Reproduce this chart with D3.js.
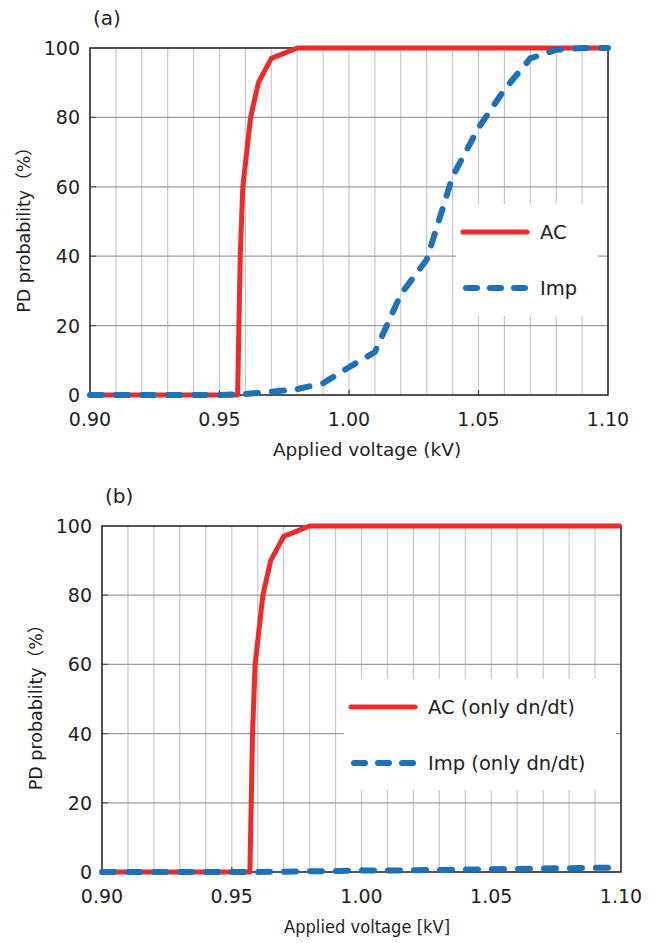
<!DOCTYPE html>
<html>
<head>
<meta charset="utf-8">
<script src="https://cdn.jsdelivr.net/npm/d3@7"></script>
<style>
    body { margin: 0; background: #fff; }
    text { font-family: "DejaVu Sans", "Noto Sans CJK JP", sans-serif; fill: #231f20; }
</style>
</head>
<body>
<div id="chart"></div>
<script>

// tick values
const xTicks = [0.90, 0.95, 1.00, 1.05, 1.10]
const yTicks = [0, 20, 40, 60, 80, 100]

// panel (a)
const acVoltageA = [0.90, 0.957, 0.958, 0.959, 0.962, 0.965, 0.970, 0.980, 1.10]
const acProbA = [0, 0, 40, 60, 80, 90, 97, 100, 100]
const impVoltageA = [0.90, 0.95, 0.96, 0.97, 0.98, 0.99, 1.00, 1.01, 1.02, 1.03, 1.04, 1.05, 1.06, 1.07, 1.08, 1.09, 1.10]
const impProbA = [0, 0, 0.3, 0.9, 1.7, 3.4, 8, 12.4, 29, 39, 63, 77, 88, 97, 99.5, 100, 100]

// panel (b)
const acVoltageB = [0.90, 0.957, 0.958, 0.959, 0.962, 0.965, 0.970, 0.980, 1.10]
const acProbB = [0, 0, 40, 60, 80, 90, 97, 100, 100]
const impVoltageB = [0.90, 0.95, 0.96, 0.97, 0.98, 0.99, 1.00, 1.01, 1.02, 1.03, 1.04, 1.05, 1.06, 1.07, 1.08, 1.09, 1.10]
const impProbB = [0, 0, 0, 0.1, 0.2, 0.3, 0.4, 0.4, 0.5, 0.6, 0.7, 0.8, 0.9, 1.0, 1.1, 1.2, 1.3]

const red = "#ee2a2b"
const blue = "#1c71b8"

const svg = d3.select("#chart").append("svg")
    .attr("width", 661)
    .attr("height", 943)

function drawPanel(p) {
    let x = d3.scaleLinear().domain([0.90, 1.10]).range([p.left, p.right])
    let y = d3.scaleLinear().domain([0, 100]).range([p.bottom, p.top])
    let g = svg.append("g")

    // vertical grid every 0.01
    g.selectAll(".vgrid")
        .data(d3.range(1, 20).map(i => 0.90 + i * 0.01))
        .enter().append("line")
        .attr("x1", d => x(d)).attr("x2", d => x(d))
        .attr("y1", p.top).attr("y2", p.bottom)
        .attr("stroke", "#c9c9c9").attr("stroke-width", 1.2)

    // horizontal grid
    g.selectAll(".hgrid")
        .data(yTicks.slice(1, -1))
        .enter().append("line")
        .attr("x1", p.left).attr("x2", p.right)
        .attr("y1", d => y(d)).attr("y2", d => y(d))
        .attr("stroke", "#9d9d9d").attr("stroke-width", 1.2)

    // legend box hides grid
    g.append("rect")
        .attr("x", p.legend.x).attr("y", p.legend.y)
        .attr("width", p.legend.w).attr("height", p.legend.h)
        .attr("fill", "#fff")

    // small inner ticks
    g.selectAll(".xt")
        .data(xTicks.slice(1, -1))
        .enter().append("line")
        .attr("x1", d => x(d)).attr("x2", d => x(d))
        .attr("y1", p.bottom).attr("y2", p.bottom - 5)
        .attr("stroke", "#444").attr("stroke-width", 1.2)
    g.selectAll(".yt")
        .data(yTicks.slice(1, -1))
        .enter().append("line")
        .attr("x1", p.left).attr("x2", p.left + 6)
        .attr("y1", d => y(d)).attr("y2", d => y(d))
        .attr("stroke", "#555").attr("stroke-width", 1.2)

    // frame
    g.append("rect")
        .attr("x", p.left).attr("y", p.top)
        .attr("width", p.right - p.left).attr("height", p.bottom - p.top)
        .attr("fill", "none").attr("stroke", "#2a2a2a").attr("stroke-width", 1.6)

    let line = d3.line()
        .x(d => x(d[0]))
        .y(d => y(d[1]))

    g.append("path")
        .datum(d3.zip(p.acV, p.acP))
        .attr("d", line)
        .attr("fill", "none").attr("stroke", red)
        .attr("stroke-width", 5).attr("stroke-linejoin", "round")

    g.append("path")
        .datum(d3.zip(p.impV, p.impP))
        .attr("d", line)
        .attr("fill", "none").attr("stroke", blue)
        .attr("stroke-width", 6).attr("stroke-linecap", "round")
        .attr("stroke-dasharray", "12 14")

    // tick labels
    g.selectAll(".xl")
        .data(xTicks)
        .enter().append("text")
        .attr("x", d => x(d)).attr("y", p.bottom + 31)
        .attr("text-anchor", "middle")
        .style("font-size", "19px")
        .text(d => d.toFixed(2))
    g.selectAll(".yl")
        .data(yTicks)
        .enter().append("text")
        .attr("x", p.left - 10).attr("y", d => y(d) + 7)
        .attr("text-anchor", "end")
        .style("font-size", "19px")
        .text(d => d)

    // titles
    let xt = g.append("text")
        .attr("x", p.xTitleX).attr("y", p.bottom + 61)
        .attr("text-anchor", "middle")
        .style("font-size", "18.5px")
        .text(p.xTitle)
    if (p.xTitleLen) xt.attr("textLength", p.xTitleLen).attr("lengthAdjust", "spacingAndGlyphs")
    g.append("text")
        .attr("transform", `translate(${p.yTitleX}, ${(p.top + p.bottom) / 2 + 4}) rotate(-90)`)
        .attr("text-anchor", "middle")
        .style("font-size", "17.5px")
        .text("PD probability（%）")
    g.append("text")
        .attr("x", p.labelX).attr("y", p.top - 23)
        .style("font-size", "20px")
        .text(p.label)

    // legend
    let lx = p.legend.x + 7
    let ly1 = p.legend.y + 28
    let ly2 = p.legend.y + 84
    g.append("line")
        .attr("x1", lx).attr("x2", lx + 64)
        .attr("y1", ly1).attr("y2", ly1)
        .attr("stroke", red).attr("stroke-width", 5).attr("stroke-linecap", "round")
    g.append("line")
        .attr("x1", lx + 3).attr("x2", lx + 64)
        .attr("y1", ly2).attr("y2", ly2)
        .attr("stroke", blue).attr("stroke-width", 6).attr("stroke-linecap", "round")
        .attr("stroke-dasharray", "11 13")
    g.append("text")
        .attr("x", lx + 77).attr("y", ly1 + 7)
        .style("font-size", "19.5px")
        .text(p.legendText[0])
    g.append("text")
        .attr("x", lx + 77).attr("y", ly2 + 7)
        .style("font-size", "19.5px")
        .text(p.legendText[1])
}

drawPanel({
    left: 90, right: 608, top: 48, bottom: 395,
    acV: acVoltageA, acP: acProbA, impV: impVoltageA, impP: impProbA,
    legend: {x: 456, y: 204, w: 142, h: 112},
    legendText: ["AC", "Imp"],
    xTitle: "Applied voltage (kV)", xTitleX: 367, yTitleX: 30,
    label: "(a)", labelX: 93
})

drawPanel({
    left: 102, right: 621, top: 526, bottom: 872,
    acV: acVoltageB, acP: acProbB, impV: impVoltageB, impP: impProbB,
    legend: {x: 344, y: 679, w: 272, h: 111},
    legendText: ["AC (only dn/dt)", "Imp (only dn/dt)"],
    xTitle: "Applied voltage [kV]", xTitleX: 367, xTitleLen: 166, yTitleX: 42,
    label: "(b)", labelX: 105
})

</script>
</body>
</html>
